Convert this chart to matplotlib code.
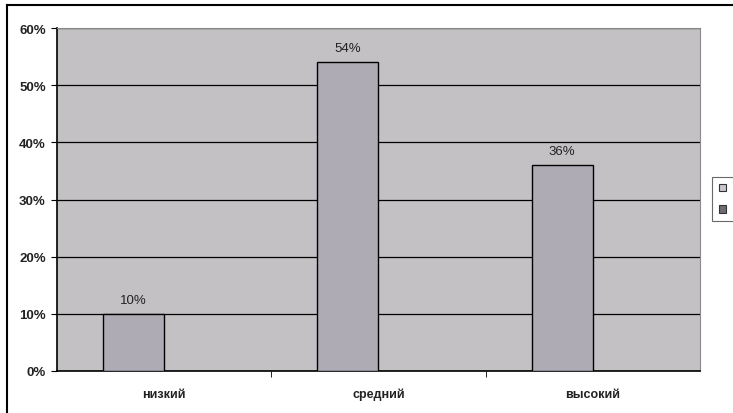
import matplotlib
matplotlib.use("Agg")
import matplotlib.pyplot as plt
from matplotlib.patches import Patch
from matplotlib.lines import Line2D
import numpy as np

categories = ["низкий", "средний", "высокий"]
series1 = [10, 54, 36]
series2 = [0, 0, 0]
yticks = [0, 10, 20, 30, 40, 50, 60]
ytick_labels = ["0%", "10%", "20%", "30%", "40%", "50%", "60%"]
bar_labels = ["10%", "54%", "36%"]

plt.rcParams['font.family'] = ['Liberation Sans', 'DejaVu Sans']

W, H = 733, 414
fig = plt.figure(figsize=(W/100, H/100), dpi=100)
fig.patch.set_facecolor("white")

ax = fig.add_axes([57/W, (H-372)/H, (700-57)/W, (372-29)/H])
ax.set_facecolor("#c3c1c4")

x = np.arange(len(categories))
w = 1/3.5
ax.bar(x - w/2, series1, width=w, color="#aeabb5", edgecolor="black", linewidth=1.0, zorder=3)

for xi, v, lab in zip(x - w/2, series1, bar_labels):
    ax.text(xi, v + 1.4, lab, ha="center", va="bottom", fontsize=9.5, color="#222222", zorder=4)

ax.set_xlim(-0.5, 2.5)
ax.set_ylim(0, 60)
ax.set_yticks(yticks)
ax.set_yticklabels(ytick_labels, fontsize=9.5, fontweight="bold", color="#222222")
ax.yaxis.grid(True, color="black", linewidth=0.9, zorder=1)
ax.set_axisbelow(True)

ax.set_xticks(x)
ax.set_xticklabels(categories, fontsize=9, fontweight="bold", color="#222222")
ax.tick_params(axis="x", length=0, pad=12)
ax.set_xticks([0.5, 1.5], minor=True)
ax.tick_params(axis="x", which="minor", length=4, color="black", direction="out")
ax.tick_params(axis="y", length=4, color="black", direction="out", pad=4)

for s in ["top", "right"]:
    ax.spines[s].set_color("#8a8a8a")
    ax.spines[s].set_linewidth(0.8)
for s in ["left", "bottom"]:
    ax.spines[s].set_color("black")
    ax.spines[s].set_linewidth(1.2)

handles = [Patch(facecolor="#c9c7cc", edgecolor="#333333", linewidth=0.8),
           Patch(facecolor="#6e6c72", edgecolor="#333333", linewidth=0.8)]
leg = fig.legend(handles, ["", ""], loc="center left", bbox_to_anchor=(712/W, 0.517),
                 frameon=True, fontsize=8, handlelength=0.7, handleheight=0.7,
                 handletextpad=0.3, borderpad=0.6, labelspacing=1.0, fancybox=False,
                 borderaxespad=0)
leg.get_frame().set_edgecolor("#444444")
leg.get_frame().set_linewidth(0.8)

fig.add_artist(Line2D([7/W, 1], [(H-6)/H, (H-6)/H], transform=fig.transFigure, color="black", linewidth=1.5))
fig.add_artist(Line2D([7/W, 7/W], [0, (H-6)/H], transform=fig.transFigure, color="black", linewidth=1.5))

fig.savefig("out.png", dpi=100)
